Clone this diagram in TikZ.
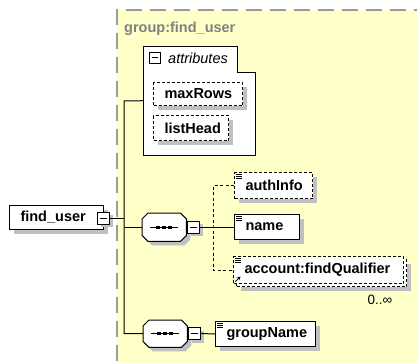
\documentclass[tikz,border=0pt]{standalone}
\usepackage{fontspec}
\setmainfont{Liberation Sans}
\usetikzlibrary{shadows,arrows.meta}
\definecolor{grpfill}{RGB}{255,255,200}
\definecolor{shd}{RGB}{192,192,192}
\definecolor{grpline}{RGB}{155,155,155}
\definecolor{grptext}{RGB}{128,128,128}
\newcommand\lbl[2]{\makebox[#1][l]{\hspace{11pt}#2}}
\newcommand\elicon[1]{%
  \draw[line width=0.7pt] ([shift={(2pt,-2pt)}]#1.north west) -- ++(6pt,0pt);
  \draw[line width=0.7pt] ([shift={(2pt,-4.2pt)}]#1.north west) -- ++(6pt,0pt);
  \draw[line width=0.7pt] ([shift={(2pt,-6.4pt)}]#1.north west) -- ++(6pt,0pt);}
\newcommand\seqshape[1]{%
  \fill[shd] ([shift={(10pt,-4pt)}]#1.north west) -- ([shift={(-2pt,-4pt)}]#1.north east) -- ([shift={(4pt,-10pt)}]#1.north east) -- ([shift={(4pt,2pt)}]#1.south east) -- ([shift={(-2pt,-4pt)}]#1.south east) -- ([shift={(10pt,-4pt)}]#1.south west) -- ([shift={(4pt,2pt)}]#1.south west) -- ([shift={(4pt,-10pt)}]#1.north west) -- cycle;
  \draw[line width=1pt, fill=white] ([shift={(6pt,0pt)}]#1.north west) -- ([shift={(-6pt,0pt)}]#1.north east) -- ([shift={(0pt,-6pt)}]#1.north east) -- ([shift={(0pt,6pt)}]#1.south east) -- ([shift={(-6pt,0pt)}]#1.south east) -- ([shift={(6pt,0pt)}]#1.south west) -- ([shift={(0pt,6pt)}]#1.south west) -- ([shift={(0pt,-6pt)}]#1.north west) -- cycle;
  \draw[line width=1pt] ([xshift=8pt]#1.west) -- ([xshift=-8pt]#1.east);
  \foreach \d in {-6,0,6} \fill ([xshift=\d pt]#1.center) ++(-1.8pt,-1.7pt) rectangle ++(3.6pt,3.4pt);}
\begin{document}
\begin{tikzpicture}[x=1pt,y=-1pt,
  elbox/.style={draw=black, line width=1pt, fill=white, inner sep=0pt, anchor=north west,
    font=\fontsize{14.5}{16}\selectfont\bfseries,
    drop shadow={shadow xshift=4.5pt, shadow yshift=-4.5pt, fill=shd, opacity=1}},
  optbox/.style={elbox, dash pattern=on 3pt off 2pt},
  mbox/.style={draw=black, line width=1pt, fill=white, inner sep=0pt, minimum size=12pt, anchor=center,
    path picture={\draw[line width=1pt] ([xshift=2.5pt]path picture bounding box.west) -- ([xshift=-2.5pt]path picture bounding box.east);}},
  shmbox/.style={mbox, drop shadow={shadow xshift=3pt, shadow yshift=-3pt, fill=shd, opacity=1}},
  seqnode/.style={inner sep=0pt, minimum width=44pt, minimum height=27pt, anchor=north west},
  conn/.style={line width=1pt},
  optconn/.style={line width=1pt, dash pattern=on 3pt off 2.5pt}
]
\useasboundingbox (0,0) rectangle (417,362);
% group background
\fill[grpfill] (117,10) rectangle (430,370);
\draw[grpline, line width=1.3pt, dash pattern=on 16pt off 8pt] (430,10) -- (117,10) -- (117,370);
\node[anchor=base west, inner sep=0pt, text=grptext, font=\fontsize{14.5}{16}\selectfont\bfseries] (grouplbl) at (124,32.5) {group:find\_user};

% find_user
\node[elbox, minimum width=94pt, minimum height=24pt] (fu) at (9,205) {\lbl{94pt}{find\_user}};
\node[shmbox] (fum) at (103.5,218) {};

% attributes container
\node[inner sep=0pt, minimum width=112pt, minimum height=109pt, anchor=north west] (attr) at (143,46) {};
\draw[line width=1pt, fill=white] (143,46) -- (237,46) -- (237,72) -- (255,72) -- (255,155) -- (143,155) -- cycle;
\node[mbox, minimum size=11pt] (attrm) at (154.5,57.5) {};
\node[anchor=west, inner sep=0pt, font=\fontsize{14.5}{16}\selectfont\itshape] (attrlbl) at (168,58) {attributes};
\node[optbox, minimum width=89pt, minimum height=23pt] (maxRows) at (153,82) {\lbl{89pt}{maxRows}};
\node[optbox, minimum width=75pt, minimum height=25pt] (listHead) at (153,115) {\lbl{75pt}{listHead}};

% first sequence
\node[seqnode, minimum height=28pt] (s1) at (142,213) {};
\seqshape{s1}
\node[shmbox] (s1m) at (193.5,227) {};
\coordinate (br) at (213,227);

\node[optbox, minimum width=78pt, minimum height=26pt] (authInfo) at (234,172) {\lbl{78pt}{authInfo}};
\elicon{authInfo}
\node[elbox, minimum width=65pt, minimum height=25pt] (name) at (234,214) {\lbl{65pt}{name}};
\elicon{name}
% account (multiple occurrences)
\node[optbox, minimum width=170pt, minimum height=27pt] (accountback) at (236,259) {};
\node[draw=black, line width=1pt, fill=white, dash pattern=on 3pt off 2pt, inner sep=0pt, anchor=north west,
  minimum width=170pt, minimum height=27pt, font=\fontsize{14.5}{16}\selectfont\bfseries] (account) at (233,256) {\lbl{170pt}{account:findQualifier}};
\elicon{account}
\draw[line width=1pt, -{Stealth[length=3.5pt,width=3.5pt]}] ([shift={(2.5pt,2.5pt)}]account.south west) -- ++(5pt,5pt);
\node[inner sep=0pt, font=\fontsize{13.5}{15}\selectfont] (occ) at (380,300) {0..∞};

% second sequence
\node[seqnode] (s2) at (143,320) {};
\seqshape{s2}
\node[shmbox] (s2m) at (194.5,333.5) {};
\node[elbox, minimum width=100pt, minimum height=25pt] (groupName) at (215,321) {\lbl{100pt}{groupName}};
\elicon{groupName}

% connectors
\coordinate (trunkTop) at (124,101);
\draw[conn] (fum.east) -- (fum.east -| trunkTop);
\draw[conn] (attr.west) -- (trunkTop) -- (trunkTop |- s2.west) -- (s2.west);
\draw[conn] (s1.west -| trunkTop) -- (s1.west);
\draw[conn] (s1m.east) -- (name.west);
\draw[optconn] (authInfo.west) -| (br) |- (account.west);
\draw[conn] (s2m.east) -- (groupName.west);
\end{tikzpicture}
\end{document}
